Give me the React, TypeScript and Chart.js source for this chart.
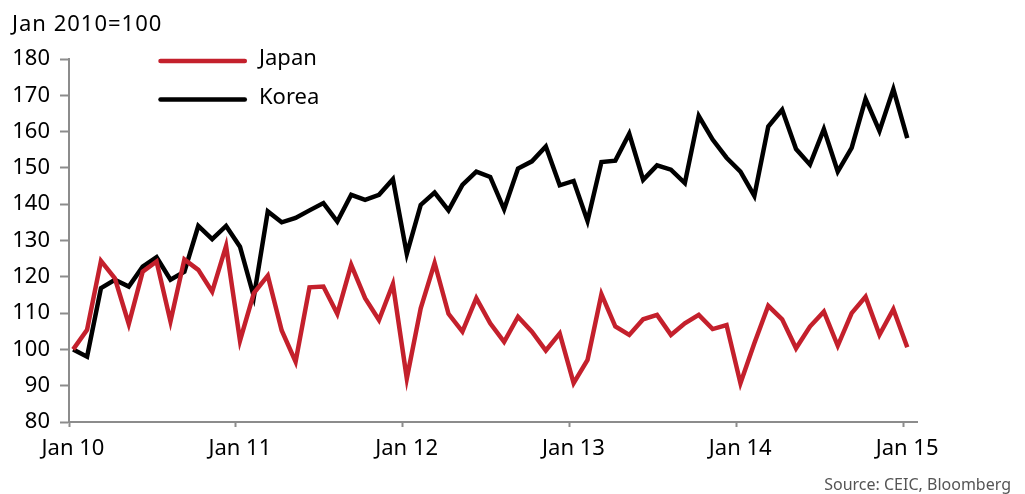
import React, { useEffect, useRef } from "react";
import { Chart, registerables } from "chart.js";

Chart.register(...registerables);

// Monthly index, Jan 2010 = 100 (Jan 2010 .. Jan 2015)
const japan: number[] = [
  100.0, 105.4, 124.4, 119.6, 107.0, 121.4, 124.2, 107.7, 124.8, 121.9, 115.9, 128.5,
  102.4, 115.5, 120.3, 105.2, 96.6, 117.1, 117.3, 109.8, 123.3, 114.1, 108.1, 118.0,
  92.0, 111.3, 123.8, 109.8, 104.9, 114.1, 107.2, 102.1, 109.0, 104.9, 99.7, 104.4,
  90.7, 97.1, 115.2, 106.3, 104.0, 108.3, 109.5, 104.0, 107.2, 109.5, 105.6, 106.7,
  90.7, 101.7, 112.0, 108.3, 100.3, 106.3, 110.4, 101.0, 110.0, 114.5, 104.0, 111.1,
  100.6,
];

const korea: number[] = [
  100.0, 98.0, 116.9, 119.2, 117.3, 122.8, 125.4, 119.2, 121.4, 134.0, 130.4, 134.0,
  128.3, 114.5, 138.0, 135.0, 136.2, 138.3, 140.3, 135.2, 142.6, 141.2, 142.6, 146.9,
  126.3, 139.8, 143.2, 138.3, 145.3, 149.0, 147.5, 138.6, 149.8, 151.8, 155.9, 145.2,
  146.4, 135.4, 151.6, 152.0, 159.4, 146.7, 150.7, 149.5, 145.8, 164.3, 157.8, 152.8,
  149.0, 142.3, 161.4, 166.0, 155.2, 150.9, 160.7, 149.0, 155.5, 169.0, 160.2, 171.7,
  158.2,
];

const xTickLabels: string[] = ["Jan 10", "Jan 11", "Jan 12", "Jan 13", "Jan 14", "Jan 15"];
const xTickMonths: number[] = [0, 12, 24, 36, 48, 60];
const yMin = 80;
const yMax = 180;
const yStep = 10;

const seriesNames: string[] = ["Japan", "Korea"];
const seriesColors: string[] = ["#c4202c", "#000000"];
const unitLabel = "Jan 2010=100";
const sourceLabel = "Source: CEIC, Bloomberg";

const TICK_OFFSET = -0.3;
const AXIS_COLOR = "#8c8c8c";
const FONT = '"Noto Sans", "Open Sans", sans-serif';

const annotationPlugin = {
  id: "annotations",
  afterDraw(chart: any) {
    const ctx = chart.ctx as CanvasRenderingContext2D;
    ctx.save();
    ctx.fillStyle = "#000";
    ctx.font = `22px ${FONT}`;
    ctx.textBaseline = "alphabetic";
    ctx.textAlign = "left";
    (ctx as any).letterSpacing = "1px";
    ctx.fillText(unitLabel, 12, 31);
    (ctx as any).letterSpacing = "0px";

    seriesNames.forEach((name, k) => {
      const y = 61 + k * 38.6;
      ctx.strokeStyle = seriesColors[k];
      ctx.lineWidth = 4.5;
      ctx.lineCap = "round";
      ctx.beginPath();
      ctx.moveTo(160.5, y);
      ctx.lineTo(244.8, y);
      ctx.stroke();
      ctx.fillStyle = "#000";
      ctx.fillText(name, 259, y + 4);
    });

    ctx.font = `16px ${FONT}`;
    ctx.fillStyle = "#555";
    ctx.textAlign = "right";
    ctx.fillText(sourceLabel, 1011, 490);
    ctx.restore();
  },
};

export default function App() {
  const canvasRef = useRef<HTMLCanvasElement | null>(null);

  useEffect(() => {
    if (!canvasRef.current) return;
    const chart = new Chart(canvasRef.current, {
      type: "line",
      data: {
        datasets: [
          {
            label: seriesNames[0],
            data: japan.map((v, i) => ({ x: i, y: v })),
            borderColor: seriesColors[0],
            borderWidth: 4.5,
            pointRadius: 0,
            tension: 0,
            fill: false,
          },
          {
            label: seriesNames[1],
            data: korea.map((v, i) => ({ x: i, y: v })),
            borderColor: seriesColors[1],
            borderWidth: 4.5,
            pointRadius: 0,
            tension: 0,
            fill: false,
          },
        ],
      },
      options: {
        responsive: false,
        animation: false,
        devicePixelRatio: 1,
        layout: { padding: { top: 59, right: 108, bottom: 0, left: 0 } },
        plugins: {
          legend: { display: false },
          tooltip: { enabled: false },
        },
        scales: {
          x: {
            type: "linear",
            min: TICK_OFFSET,
            max: 60.7,
            afterBuildTicks: (scale: any) => {
              scale.ticks = xTickMonths.map((m) => ({ value: m + TICK_OFFSET }));
            },
            afterFit: (scale: any) => {
              scale.height = 72;
            },
            ticks: {
              autoSkip: false,
              maxRotation: 0,
              minRotation: 0,
              labelOffset: 4,
              padding: 9,
              color: "#000",
              font: { family: FONT, size: 22 },
              callback: (_v: any, index: number) => xTickLabels[index],
            },
            grid: {
              drawOnChartArea: false,
              drawTicks: true,
              tickLength: 5,
              tickColor: AXIS_COLOR,
              tickWidth: 2,
            },
            border: { color: AXIS_COLOR, width: 2 },
          },
          y: {
            type: "linear",
            min: yMin,
            max: yMax,
            afterFit: (scale: any) => {
              scale.width = 69;
            },
            ticks: {
              stepSize: yStep,
              padding: 10,
              color: "#000",
              font: { family: FONT, size: 22 },
            },
            grid: {
              drawOnChartArea: false,
              drawTicks: true,
              tickLength: 9,
              tickColor: AXIS_COLOR,
              tickWidth: 2,
            },
            border: { color: AXIS_COLOR, width: 2 },
          },
        },
      },
      plugins: [annotationPlugin],
    });
    return () => chart.destroy();
  }, []);

  return (
    <div style={{ position: "absolute", left: 0, top: 0, width: 1025, height: 494, background: "#fff" }}>
      <canvas ref={canvasRef} width={1025} height={494} style={{ display: "block" }} />
    </div>
  );
}
